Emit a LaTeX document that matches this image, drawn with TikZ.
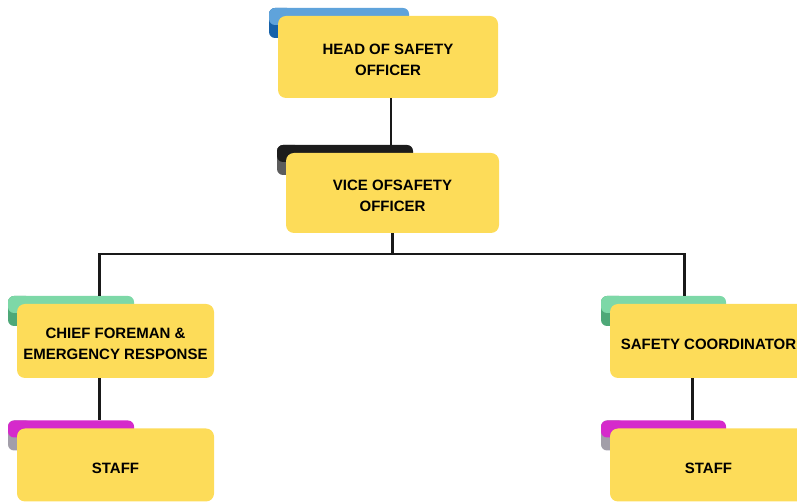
\documentclass[tikz,border=0pt]{standalone}
\usepackage{fontspec}
\setmainfont{Liberation Sans}
\usetikzlibrary{positioning}

\definecolor{folder}{HTML}{FDDC59}
\definecolor{tabblue}{HTML}{5FA3DB}
\definecolor{foldblue}{HTML}{1762AA}
\definecolor{tabblack}{HTML}{1C1C1C}
\definecolor{foldgray}{HTML}{5C5C5C}
\definecolor{tabgreen}{HTML}{7DD8A7}
\definecolor{foldgreen}{HTML}{4EA878}
\definecolor{tabpink}{HTML}{D52ACB}
\definecolor{foldlilac}{HTML}{A29EA9}

\newcommand{\lift}{\rule{0pt}{17pt}}

\pgfdeclarelayer{back}
\pgfsetlayers{back,main}

\begin{document}
\begin{tikzpicture}[x=1pt,y=1pt,
    box/.style={fill=folder,rounded corners=8,align=center,inner sep=0pt,
        font=\fontsize{15}{21}\selectfont\bfseries},
    tab/.style={anchor=north west,rounded corners=6,inner sep=0pt,minimum height=17},
    fold/.style={anchor=north west,rounded corners=6,inner sep=0pt,minimum width=24,minimum height=30},
    link/.style={line width=2.2pt,black!90}]
    \useasboundingbox (0,0) rectangle (797,502);

    \node[box,minimum width=220,minimum height=82] (head) at (388,445) {\lift HEAD OF SAFETY\\OFFICER};
    \node[box,minimum width=213,minimum height=80] (vice) at (392.5,309) {\lift VICE OFSAFETY\\OFFICER};
    \node[box,minimum width=197,minimum height=74] (chief) at (115.5,161) {\lift CHIEF FOREMAN \&\\EMERGENCY RESPONSE};
    \node[box,minimum width=197,minimum height=74] (coord) at (708.5,161) {\lift SAFETY COORDINATOR};
    \node[box,minimum width=197,minimum height=73] (staffl) at (115.5,37) {\lift STAFF};
    \node[box,minimum width=197,minimum height=73] (staffr) at (708.5,37) {\lift STAFF};

    % tabs behind the folders
    \begin{pgfonlayer}{back}
    \foreach \n/\w/\c/\d in {head/140/tabblue/foldblue,vice/136/tabblack/foldgray,
        chief/126/tabgreen/foldgreen,coord/125/tabgreen/foldgreen,
        staffl/126/tabpink/foldlilac,staffr/125/tabpink/foldlilac} {
        \node[fold,fill=\d] at ([xshift=-9,yshift=8]\n.north west) {};
        \node[tab,fill=\c,minimum width=\w] (\n-tab) at ([xshift=-9,yshift=8]\n.north west) {};
    }
    \end{pgfonlayer}

    \draw[link] ([xshift=3]head.south) -- ([xshift=3]head.south |- vice-tab.north);
    \draw[link] (vice.south) -- ++(0,-21) coordinate (split);
    \draw[link] ([xshift=-16]chief.north |- chief-tab.north) |- (split)
        -| ([xshift=-24]coord.north |- coord-tab.north);
    \draw[link] ([xshift=-16]chief.south) -- ([xshift=-16]chief.south |- staffl-tab.north);
    \draw[link] ([xshift=-16]coord.south) -- ([xshift=-16]coord.south |- staffr-tab.north);
\end{tikzpicture}
\end{document}
